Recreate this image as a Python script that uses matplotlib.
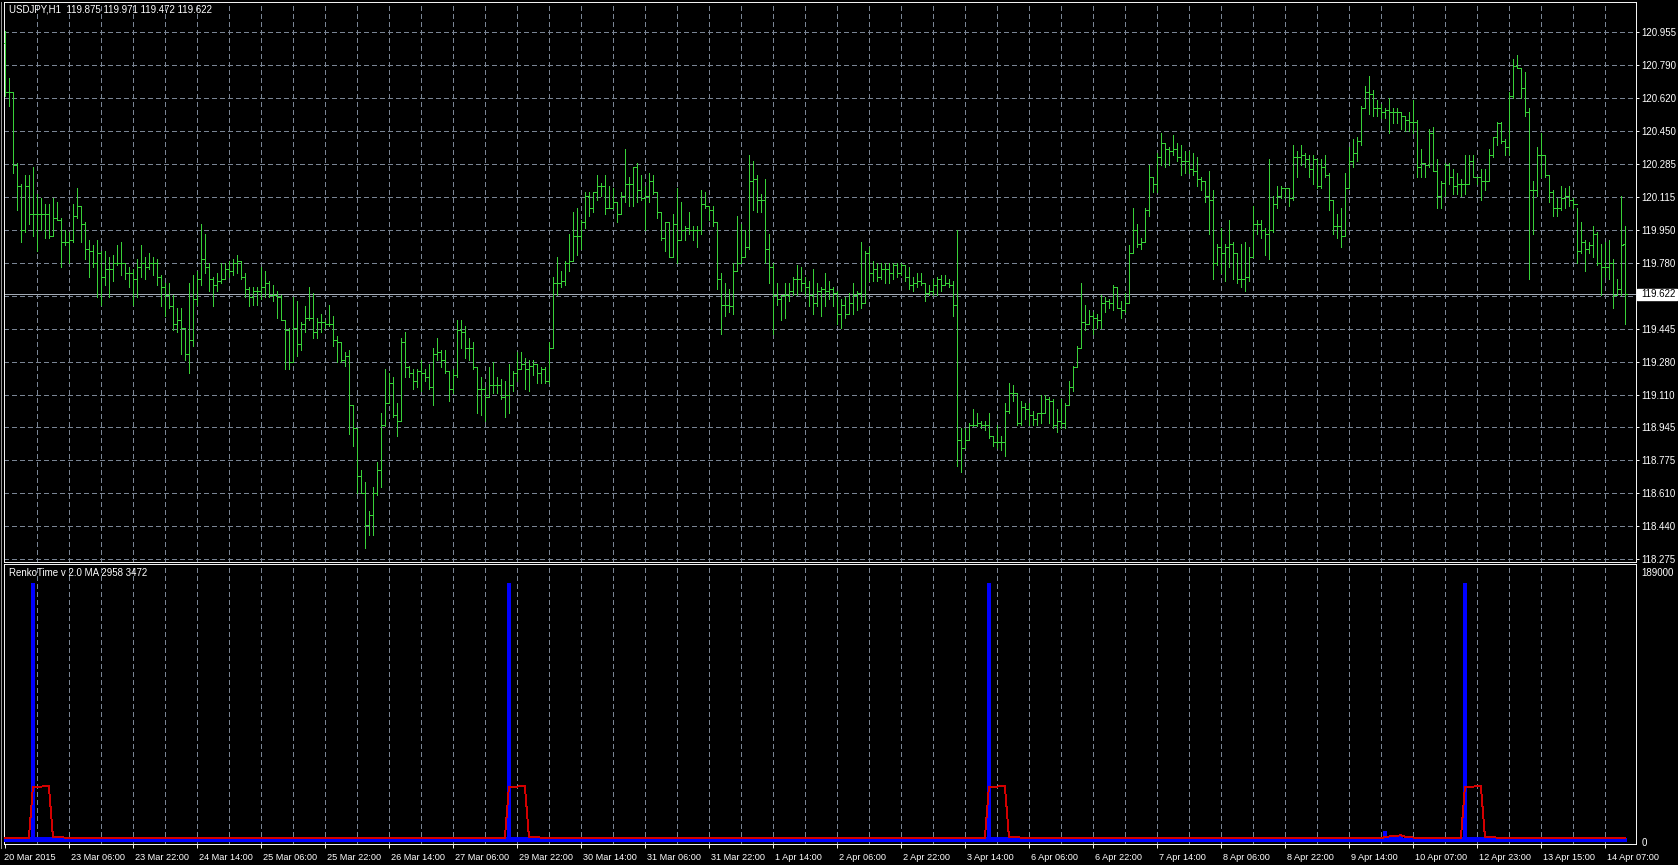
import numpy as np
import matplotlib
matplotlib.use("Agg")
import matplotlib.pyplot as plt
from matplotlib.collections import LineCollection
from matplotlib.patches import Rectangle
from matplotlib.lines import Line2D
import matplotlib.transforms as mtransforms

plt.rcParams['font.family'] = ['Liberation Sans', 'DejaVu Sans']

# ---------------- data ----------------
chart_title = "USDJPY,H1  119.875 119.971 119.472 119.622"
indicator_title = "RenkoTime v 2.0 MA 2958 3472"
current_price = 119.622

opens = [
 120.90,120.65,120.65,120.28,120.17,119.95,120.17,120.03,120.03,120.03,
 120.03,120.03,119.92,120.01,120.00,119.89,119.89,119.90,120.02,120.07,
 119.98,119.85,119.84,119.78,119.83,119.71,119.75,119.75,119.78,119.78,
 119.78,119.73,119.73,119.70,119.76,119.78,119.76,119.78,119.78,119.71,
 119.66,119.62,119.56,119.47,119.49,119.45,119.32,119.39,119.60,119.70,
 119.80,119.76,119.70,119.67,119.69,119.70,119.75,119.74,119.78,119.79,
 119.71,119.65,119.61,119.64,119.64,119.66,119.68,119.62,119.62,119.61,
 119.49,119.44,119.28,119.45,119.37,119.47,119.50,119.50,119.43,119.48,
 119.48,119.47,119.47,119.39,119.38,119.29,119.31,119.06,118.94,118.70,
 118.61,118.45,118.50,118.61,118.73,118.96,119.07,119.17,119.01,118.98,
 119.38,119.25,119.22,119.18,119.23,119.22,119.20,119.15,119.32,119.33,
 119.29,119.23,119.14,119.21,119.44,119.43,119.35,119.35,119.25,119.14,
 119.14,119.10,119.16,119.16,119.16,119.10,119.11,119.16,119.22,119.24,
 119.27,119.24,119.26,119.27,119.22,119.24,119.18,119.35,119.68,119.68,
 119.69,119.78,119.79,119.92,119.92,119.99,120.12,120.06,120.14,120.17,
 120.17,120.06,120.06,120.09,120.03,120.12,120.18,120.18,120.27,120.15,
 120.11,120.12,120.20,120.14,120.04,119.91,119.99,119.81,119.98,119.90,
 119.95,119.96,119.95,119.95,119.95,120.08,120.07,120.05,119.99,119.70,
 119.57,119.57,119.56,119.74,119.78,119.81,119.86,120.20,120.21,120.10,
 120.10,119.85,119.76,119.62,119.60,119.62,119.62,119.64,119.70,119.70,
 119.68,119.66,119.62,119.58,119.64,119.65,119.64,119.65,119.63,119.52,
 119.57,119.52,119.58,119.62,119.63,119.58,119.83,119.73,119.75,119.71,
 119.75,119.75,119.73,119.77,119.73,119.77,119.71,119.67,119.68,119.69,
 119.68,119.63,119.64,119.67,119.70,119.67,119.68,119.67,119.57,118.88,
 118.84,118.88,118.96,118.96,118.97,118.96,118.96,118.90,118.87,118.87,
 118.87,119.03,119.12,119.12,118.97,119.05,119.04,119.01,118.99,119.02,
 119.02,119.09,119.08,118.96,118.98,118.97,119.06,119.15,119.25,119.35,
 119.48,119.47,119.51,119.50,119.49,119.58,119.59,119.58,119.66,119.55,
 119.54,119.58,119.83,119.95,119.88,119.89,120.05,120.22,120.18,120.32,
 120.39,120.36,120.35,120.36,120.32,120.30,120.30,120.26,120.25,120.21,
 120.20,120.12,120.10,119.78,119.86,119.83,119.86,119.88,119.83,119.70,
 119.70,119.71,119.81,119.98,119.98,119.95,119.93,119.95,120.08,120.12,
 120.16,120.16,120.11,120.32,120.32,120.33,120.31,120.26,120.31,120.17,
 120.27,120.23,120.10,119.97,119.97,119.92,120.16,120.30,120.34,120.40,
 120.57,120.65,120.64,120.57,120.57,120.55,120.56,120.55,120.55,120.55,
 120.53,120.51,120.50,120.50,120.27,120.29,120.28,120.44,120.25,120.12,
 120.19,120.28,120.22,120.17,120.18,120.18,120.18,120.30,120.22,120.22,
 120.20,120.20,120.33,120.42,120.49,120.40,120.37,120.63,120.78,120.77,
 120.67,120.55,120.15,120.15,120.33,120.33,120.23,120.14,120.06,120.06,
 120.11,120.12,120.10,120.08,119.84,119.89,119.85,119.87,119.93,119.78,
 119.76,119.76,119.78,119.62,119.65,119.875]

highs = [
 120.96,120.72,120.65,120.29,120.18,120.23,120.23,120.27,120.13,120.11,
 120.08,120.08,120.11,120.09,120.01,119.95,119.94,120.08,120.16,120.07,
 119.99,119.90,119.87,119.90,119.84,119.84,119.81,119.82,119.87,119.89,
 119.78,119.76,119.75,119.80,119.87,119.81,119.83,119.81,119.80,119.72,
 119.68,119.68,119.62,119.55,119.55,119.45,119.68,119.72,119.74,119.98,
 119.93,119.78,119.71,119.73,119.78,119.78,119.79,119.80,119.82,119.79,
 119.73,119.66,119.66,119.66,119.76,119.74,119.69,119.67,119.64,119.62,
 119.49,119.45,119.61,119.59,119.48,119.56,119.66,119.63,119.50,119.52,
 119.49,119.57,119.51,119.41,119.38,119.33,119.34,119.06,118.94,118.73,
 118.67,118.52,118.64,118.77,119.02,119.24,119.22,119.20,119.07,119.40,
 119.43,119.26,119.24,119.24,119.29,119.24,119.27,119.35,119.40,119.34,
 119.34,119.23,119.24,119.49,119.49,119.46,119.40,119.38,119.25,119.20,
 119.15,119.25,119.28,119.20,119.19,119.18,119.27,119.23,119.33,119.33,
 119.30,119.29,119.29,119.27,119.25,119.25,119.38,119.71,119.81,119.74,
 119.79,119.93,120.04,120.06,120.00,120.14,120.14,120.14,120.23,120.19,
 120.23,120.17,120.16,120.09,120.14,120.36,120.22,120.27,120.29,120.23,
 120.17,120.24,120.23,120.14,120.04,119.99,119.99,120.03,120.16,120.09,
 119.97,120.04,119.97,119.97,120.15,120.14,120.07,120.07,119.99,119.73,
 119.68,119.65,119.78,120.02,119.98,119.95,120.33,120.30,120.23,120.13,
 120.21,119.93,119.78,119.68,119.62,119.68,119.68,119.71,119.77,119.76,
 119.71,119.69,119.75,119.68,119.66,119.73,119.69,119.66,119.64,119.60,
 119.61,119.63,119.68,119.64,119.89,119.84,119.86,119.79,119.78,119.78,
 119.78,119.78,119.78,119.78,119.78,119.77,119.76,119.71,119.73,119.73,
 119.68,119.67,119.70,119.71,119.72,119.72,119.70,119.69,119.95,118.94,
 118.94,118.97,119.04,119.02,118.98,118.98,119.02,118.90,118.96,118.90,
 119.07,119.17,119.16,119.12,119.08,119.07,119.07,119.03,119.02,119.11,
 119.11,119.10,119.09,119.04,119.09,119.07,119.18,119.26,119.36,119.68,
 119.57,119.54,119.53,119.52,119.62,119.61,119.60,119.67,119.66,119.59,
 119.63,119.87,120.06,119.98,119.91,120.06,120.28,120.22,120.34,120.44,
 120.39,120.37,120.43,120.39,120.38,120.35,120.35,120.34,120.32,120.22,
 120.20,120.25,120.15,119.88,119.96,119.88,120.00,119.89,119.83,119.88,
 119.89,119.86,120.07,120.00,120.00,119.96,120.31,120.12,120.17,120.17,
 120.16,120.16,120.38,120.35,120.38,120.34,120.33,120.33,120.31,120.31,
 120.33,120.24,120.10,120.03,120.06,120.24,120.37,120.41,120.42,120.58,
 120.68,120.73,120.66,120.61,120.59,120.57,120.62,120.57,120.57,120.55,
 120.53,120.55,120.61,120.51,120.36,120.29,120.46,120.47,120.31,120.20,
 120.29,120.29,120.26,120.24,120.21,120.33,120.33,120.33,120.22,120.26,
 120.26,120.36,120.42,120.50,120.50,120.41,120.65,120.82,120.84,120.77,
 120.75,120.57,120.20,120.37,120.44,120.33,120.23,120.15,120.11,120.17,
 120.16,120.17,120.11,120.06,119.99,119.90,119.89,119.97,119.94,119.88,
 119.89,119.90,119.80,119.70,120.12,119.971]

lows = [
 120.63,120.58,120.24,120.05,119.89,119.94,119.98,119.92,119.84,119.95,
 119.91,119.91,119.92,120.00,119.76,119.87,119.78,119.89,120.01,119.89,
 119.80,119.71,119.76,119.61,119.57,119.67,119.61,119.69,119.77,119.72,
 119.70,119.66,119.57,119.61,119.71,119.70,119.75,119.72,119.67,119.56,
 119.51,119.55,119.44,119.43,119.32,119.29,119.22,119.36,119.57,119.67,
 119.73,119.64,119.56,119.64,119.68,119.70,119.71,119.72,119.73,119.70,
 119.61,119.56,119.57,119.57,119.60,119.61,119.61,119.59,119.50,119.49,
 119.24,119.24,119.28,119.31,119.34,119.43,119.49,119.40,119.40,119.43,
 119.45,119.46,119.36,119.28,119.28,119.26,118.91,118.85,118.61,118.61,
 118.33,118.40,118.40,118.60,118.64,118.95,119.07,119.00,118.90,118.98,
 119.20,119.20,119.14,119.15,119.13,119.18,119.14,119.06,119.29,119.25,
 119.22,119.08,119.12,119.20,119.35,119.30,119.29,119.24,119.02,119.01,
 118.98,119.10,119.12,119.12,119.09,119.00,119.02,119.13,119.18,119.24,
 119.14,119.13,119.21,119.17,119.17,119.17,119.17,119.35,119.62,119.66,
 119.67,119.74,119.79,119.82,119.85,119.96,120.02,120.04,120.10,120.12,
 120.03,120.06,120.06,119.99,120.03,120.09,120.07,120.07,120.09,120.10,
 119.95,120.09,120.13,120.01,119.90,119.84,119.81,119.81,119.78,119.90,
 119.90,119.93,119.90,119.86,119.93,120.06,120.00,119.97,119.65,119.42,
 119.51,119.53,119.52,119.74,119.78,119.81,119.85,120.05,120.04,120.04,
 119.78,119.68,119.42,119.57,119.49,119.50,119.59,119.62,119.62,119.64,
 119.62,119.56,119.52,119.56,119.51,119.56,119.60,119.56,119.47,119.45,
 119.50,119.52,119.52,119.54,119.55,119.58,119.69,119.69,119.69,119.70,
 119.68,119.68,119.70,119.71,119.72,119.69,119.65,119.64,119.66,119.67,
 119.59,119.62,119.62,119.62,119.64,119.67,119.66,119.51,118.75,118.72,
 118.84,118.88,118.95,118.95,118.94,118.93,118.89,118.85,118.84,118.83,
 118.80,119.02,119.08,118.96,118.96,118.99,118.96,118.96,118.96,118.97,
 119.02,118.97,118.94,118.92,118.94,118.94,119.06,119.13,119.25,119.35,
 119.44,119.47,119.42,119.45,119.45,119.53,119.55,119.54,119.55,119.50,
 119.53,119.58,119.83,119.86,119.85,119.89,120.02,120.14,120.14,120.28,
 120.27,120.28,120.33,120.30,120.23,120.24,120.24,120.23,120.17,120.15,
 120.09,119.93,119.70,119.77,119.73,119.69,119.76,119.70,119.68,119.66,
 119.64,119.69,119.81,119.93,119.91,119.82,119.80,119.94,120.06,120.11,
 120.11,120.07,120.10,120.22,120.28,120.27,120.22,120.18,120.16,120.16,
 120.22,120.05,119.93,119.91,119.86,119.92,120.16,120.27,120.30,120.38,
 120.57,120.54,120.53,120.53,120.52,120.52,120.44,120.49,120.49,120.46,
 120.45,120.45,120.44,120.22,120.22,120.22,120.27,120.25,120.06,120.06,
 120.12,120.18,120.13,120.13,120.12,120.13,120.18,120.22,120.18,120.10,
 120.15,120.20,120.32,120.38,120.39,120.33,120.33,120.62,120.77,120.62,
 120.53,119.70,119.93,120.12,120.22,120.22,120.09,120.02,120.02,120.05,
 120.06,120.07,120.06,119.78,119.83,119.74,119.83,119.81,119.77,119.62,
 119.71,119.70,119.55,119.62,119.62,119.472]

closes = [
 120.65,120.65,120.28,120.17,119.95,120.17,120.03,120.03,120.03,120.03,
 120.03,119.92,120.01,120.00,119.89,119.89,119.90,120.02,120.07,119.98,
 119.85,119.84,119.78,119.83,119.71,119.75,119.75,119.78,119.78,119.78,
 119.73,119.73,119.70,119.76,119.78,119.76,119.78,119.78,119.71,119.66,
 119.62,119.56,119.47,119.49,119.45,119.32,119.39,119.60,119.70,119.80,
 119.76,119.70,119.67,119.69,119.70,119.75,119.74,119.78,119.79,119.71,
 119.65,119.61,119.64,119.64,119.66,119.68,119.62,119.62,119.61,119.49,
 119.44,119.28,119.45,119.37,119.47,119.50,119.50,119.43,119.48,119.48,
 119.47,119.47,119.39,119.38,119.29,119.31,119.06,118.94,118.70,118.61,
 118.45,118.50,118.61,118.73,118.96,119.07,119.17,119.01,118.98,119.38,
 119.25,119.22,119.18,119.23,119.22,119.20,119.15,119.32,119.33,119.29,
 119.23,119.14,119.21,119.44,119.43,119.35,119.35,119.25,119.14,119.14,
 119.10,119.16,119.16,119.16,119.10,119.11,119.16,119.22,119.24,119.27,
 119.24,119.26,119.27,119.22,119.24,119.18,119.35,119.68,119.68,119.69,
 119.78,119.79,119.92,119.92,119.99,120.12,120.06,120.14,120.17,120.17,
 120.06,120.06,120.09,120.03,120.12,120.18,120.18,120.27,120.15,120.11,
 120.12,120.20,120.14,120.04,119.91,119.99,119.81,119.98,119.90,119.95,
 119.96,119.95,119.95,119.95,120.08,120.07,120.05,119.99,119.70,119.57,
 119.57,119.56,119.74,119.78,119.81,119.86,120.20,120.21,120.10,120.10,
 119.85,119.76,119.62,119.60,119.62,119.62,119.64,119.70,119.70,119.68,
 119.66,119.62,119.58,119.64,119.65,119.64,119.65,119.63,119.52,119.57,
 119.52,119.58,119.62,119.63,119.58,119.83,119.73,119.75,119.71,119.75,
 119.75,119.73,119.77,119.73,119.77,119.71,119.67,119.68,119.69,119.68,
 119.63,119.64,119.67,119.70,119.67,119.68,119.67,119.57,118.88,118.84,
 118.88,118.96,118.96,118.97,118.96,118.96,118.90,118.87,118.87,118.87,
 119.03,119.12,119.12,118.97,119.05,119.04,119.01,118.99,119.02,119.02,
 119.09,119.08,118.96,118.98,118.97,119.06,119.15,119.25,119.35,119.48,
 119.47,119.51,119.50,119.49,119.58,119.59,119.58,119.66,119.55,119.54,
 119.58,119.83,119.95,119.88,119.89,120.05,120.22,120.18,120.32,120.39,
 120.36,120.35,120.36,120.32,120.30,120.30,120.26,120.25,120.21,120.20,
 120.12,120.10,119.78,119.86,119.83,119.86,119.88,119.83,119.70,119.70,
 119.71,119.81,119.98,119.98,119.95,119.93,119.95,120.08,120.12,120.16,
 120.16,120.11,120.32,120.32,120.33,120.31,120.26,120.31,120.17,120.27,
 120.23,120.10,119.97,119.97,119.92,120.16,120.30,120.34,120.40,120.57,
 120.65,120.64,120.57,120.57,120.55,120.56,120.55,120.55,120.55,120.53,
 120.51,120.50,120.50,120.27,120.29,120.28,120.44,120.25,120.12,120.19,
 120.28,120.22,120.17,120.18,120.18,120.18,120.30,120.22,120.22,120.20,
 120.20,120.33,120.42,120.49,120.40,120.37,120.63,120.78,120.77,120.67,
 120.55,120.15,120.15,120.33,120.33,120.23,120.14,120.06,120.06,120.11,
 120.12,120.10,120.08,119.84,119.89,119.85,119.87,119.93,119.78,119.76,
 119.76,119.78,119.62,119.65,119.87,119.622]

# RenkoTime histogram (blue) and its moving average (red), one value per bar
renko_hist = ([2600]*6 + [3800, 181000, 3800, 3800, 3800, 3800, 3800] + [2600]*7
              + [2600]*100
              + [2600]*5 + [3800, 181000, 3800, 3800, 3800, 3800, 3800] + [2600]*8
              + [2600]*100
              + [2600]*5 + [3800, 181000, 3800, 3800, 3800, 3800, 3800] + [2600]*8
              + [2600]*80
              + [2600]*5 + [7400, 4000, 4000, 4000, 4000] + [2600]*10
              + [2600]*4 + [3800, 181000, 3800, 3800, 3800, 3800, 3800] + [2600]*9
              + [2600]*26)
renko_ma = ([2600]*6 + [2840, 38400, 38600, 38800, 39000, 39000, 3800, 3560, 3320, 3080, 2840] + [2600]*3
            + [2600]*100
            + [2600]*5 + [2840, 38400, 38600, 38800, 39000, 39000, 3800, 3560, 3320, 3080, 2840] + [2600]*4
            + [2600]*100
            + [2600]*5 + [2840, 38400, 38600, 38800, 39000, 39000, 3800, 3560, 3320, 3080, 2840] + [2600]*4
            + [2600]*80
            + [2600]*5 + [3560, 3840, 4120, 4400, 4680, 3720, 3440, 3160, 2880] + [2600]*6
            + [2600]*4 + [2840, 38400, 38600, 38800, 39000, 39000, 3800, 3560, 3320, 3080, 2840] + [2600]*5
            + [2600]*26)

price_ticks = [118.275, 118.4425, 118.61, 118.7775, 118.945, 119.1125, 119.28, 119.4475,
               119.615, 119.7825, 119.95, 120.1175, 120.285, 120.4525, 120.62, 120.7875, 120.955]
price_labels = ["118.275", "118.440", "118.610", "118.775", "118.945", "119.110", "119.280", "119.445",
                "", "119.780", "119.950", "120.115", "120.285", "120.450", "120.620", "120.790", "120.955"]

time_label_bars = [0, 16, 32, 48, 64, 80, 96, 112, 128, 144, 160, 176, 192, 208, 224, 240,
                   256, 272, 288, 304, 320, 336, 352, 368, 384, 400]
time_labels = ["20 Mar 2015", "23 Mar 06:00", "23 Mar 22:00", "24 Mar 14:00", "25 Mar 06:00",
               "25 Mar 22:00", "26 Mar 14:00", "27 Mar 06:00", "29 Mar 22:00", "30 Mar 14:00",
               "31 Mar 06:00", "31 Mar 22:00", "1 Apr 14:00", "2 Apr 06:00", "2 Apr 22:00",
               "3 Apr 14:00", "6 Apr 06:00", "6 Apr 22:00", "7 Apr 14:00", "8 Apr 06:00",
               "8 Apr 22:00", "9 Apr 14:00", "10 Apr 07:00", "12 Apr 23:00", "13 Apr 15:00",
               "14 Apr 07:00"]

ind_ticks = [0, 189000]
ind_labels = ["0", "189000"]

assert len(opens) == len(highs) == len(lows) == len(closes) == len(renko_hist) == len(renko_ma)

# ---------------- styling ----------------
W, H = 1678, 865
BG = "black"
BAR = "#38d038"
GRID = "#7a8594"
PX = 0.72  # one pixel in points
LW = 0.68  # thin, single-pixel lines

fig = plt.figure(figsize=(W / 100, H / 100), dpi=100, facecolor=BG)


def axes_px(left, top, right, bottom):
    return fig.add_axes([left / W, 1 - bottom / H, (right - left) / W, (bottom - top) / H])


ax1 = axes_px(4, 2, 1636, 562)
ax2 = axes_px(4, 564, 1636, 844)

n = len(closes)
x = np.arange(n)
XLIM = (-0.225, 407.775)
grid_bars = list(range(8, 408, 8))

for ax in (ax1, ax2):
    ax.set_facecolor(BG)
    ax.set_xlim(*XLIM)
    for s in ax.spines.values():
        s.set_color("white")
        s.set_linewidth(LW)
    ax.vlines(grid_bars, 0, 1, transform=ax.get_xaxis_transform(), colors=GRID,
              linewidth=LW, linestyles=(0, (4.4, 3.3)), zorder=1, antialiased=False)

# window frame line at the far left
fig.lines.append(Line2D([1 / W, 1 / W], [1 - 2 / H, 1 - 848 / H], transform=fig.transFigure,
                        color="#9a9a9a", linewidth=LW, antialiased=False))

# ---- main price pane ----
ax1.set_ylim(118.2613, 121.1075)
ax1.hlines(price_ticks, XLIM[0], XLIM[1], colors=GRID, linewidth=LW,
           linestyles=(0, (4.4, 3.3)), zorder=1, antialiased=False)
ax1.axhline(current_price, color="#a3abb5", linewidth=LW, zorder=2, antialiased=False)

segs = []
for i in range(n):
    segs.append([(x[i], lows[i]), (x[i], highs[i])])
    segs.append([(x[i] - 0.45, opens[i]), (x[i], opens[i])])
    segs.append([(x[i], closes[i]), (x[i] + 0.45, closes[i])])
ax1.add_collection(LineCollection(segs, colors=BAR, linewidths=LW,
                                  antialiaseds=False, zorder=3))

ax1.set_xticks([])
ax1.yaxis.tick_right()
ax1.set_yticks(price_ticks)
ax1.set_yticklabels(price_labels)
ax1.tick_params(axis="y", colors="white", labelcolor="white", labelsize=7,
                length=3 * PX, width=LW, pad=1.5, left=False, right=True)

# current price box
tb = mtransforms.blended_transform_factory(fig.transFigure, ax1.transData)
box_h = 11 * (121.1075 - 118.2613) / 560
fig.patches.append(Rectangle((1637 / W, current_price - box_h / 2), 40 / W, box_h,
                             transform=tb, facecolor="white", edgecolor="white", zorder=5))
fig.text(1641 / W, current_price, f"{current_price:.3f}", transform=tb, color="black",
         fontsize=7, va="center", ha="left", zorder=6)

# ---- indicator pane ----
ax2.set_ylim(-1400, 194600)
ax2.bar(x, renko_hist, width=0.85, color="#0000ff", linewidth=0, zorder=3, antialiased=False)
ax2.plot(x, renko_ma, color="#d40000", linewidth=LW, zorder=4, antialiased=False)

ax2.yaxis.tick_right()
ax2.set_yticks(ind_ticks)
ax2.set_yticklabels(ind_labels)
ax2.tick_params(axis="y", colors="white", labelcolor="white", labelsize=7,
                length=0, width=LW, pad=4, left=False, right=True)

ax2.set_xticks(time_label_bars)
ax2.tick_params(axis="x", colors="white", length=4 * PX, width=LW, labelbottom=False,
                direction="out")
tx = mtransforms.blended_transform_factory(ax2.transData, ax2.transAxes)
for b, lab in zip(time_label_bars, time_labels):
    off = -0.1 if b == 0 else 0.6
    ax2.text(b + off, -13 / 280, lab, transform=tx, color="white", fontsize=6.6,
             ha="left", va="center", clip_on=False)

# titles
fig.text(9 / W, 1 - 9.7 / H, chart_title, color="white", fontsize=7, ha="left", va="center")
fig.text(9 / W, 1 - 573.3 / H, indicator_title, color="white", fontsize=7, ha="left", va="center")

fig.savefig("out.png", dpi=100, facecolor=BG)
